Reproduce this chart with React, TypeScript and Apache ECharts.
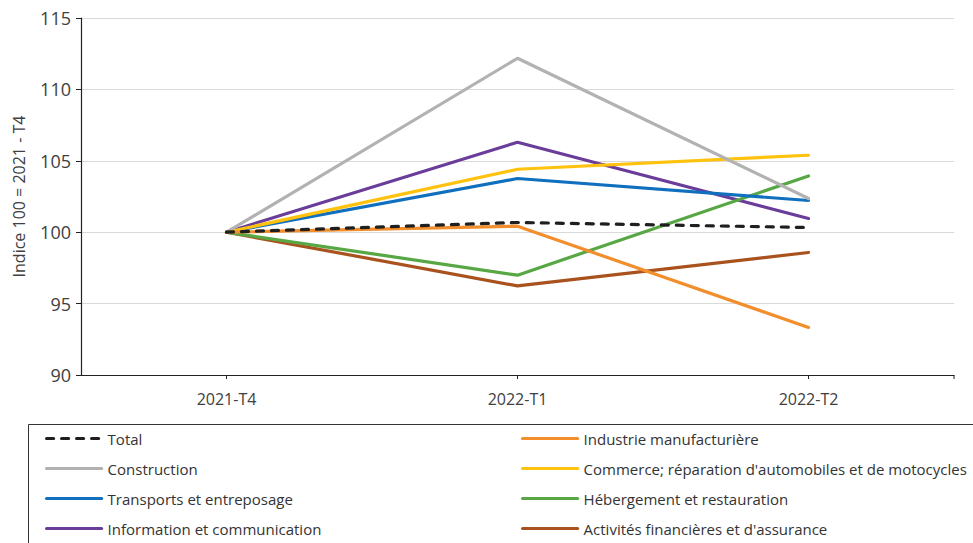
import React, { useEffect, useRef } from "react";
import * as echarts from "echarts";

const categories = ["2021-T4", "2022-T1", "2022-T2"];
const seriesNames = [
  "Total",
  "Industrie manufacturière",
  "Construction",
  "Commerce; réparation d'automobiles et de motocycles",
  "Transports et entreposage",
  "Hébergement et restauration",
  "Information et communication",
  "Activités financières et d'assurance",
];
const total = [100, 100.68, 100.33];
const industrie = [100, 100.42, 93.33];
const construction = [100, 112.18, 102.36];
const commerce = [100, 104.41, 105.39];
const transports = [100, 103.76, 102.22];
const hebergement = [100, 96.99, 103.94];
const information = [100, 106.3, 100.96];
const financieres = [100, 96.24, 98.58];
const yTicks = [90, 95, 100, 105, 110, 115];

const colors = ["#1f1f1f", "#f28e2b", "#b2b2b2", "#ffc20e", "#1170be", "#57a844", "#6a3d9a", "#a9521e"];
const values = [total, industrie, construction, commerce, transports, hebergement, information, financieres];

const FONT = "'Open Sans', 'Noto Sans', sans-serif";

export default function App() {
  const ref = useRef<HTMLDivElement>(null);
  useEffect(() => {
    if (!ref.current) return;
    const chart = echarts.init(ref.current, null, { renderer: "svg" });
    const series = seriesNames.map((name, i) => ({
      name,
      type: "line",
      data: values[i],
      showSymbol: false,
      symbol: "none",
      z: 10 - i,
      lineStyle: {
        color: colors[i],
        width: 3.2,
        type: i === 0 ? [7, 8] : "solid",
        cap: "round",
      },
      itemStyle: { color: colors[i] },
    }));
    const leftCol = [seriesNames[0], seriesNames[2], seriesNames[4], seriesNames[6]];
    const rightCol = [seriesNames[1], seriesNames[3], seriesNames[5], seriesNames[7]];
    const legendCommon = {
      orient: "vertical",
      top: 431,
      padding: 0,
      itemWidth: 55,
      itemHeight: 12,
      itemGap: 15,
      itemStyle: { opacity: 0 },
      lineStyle: { width: 3.2 },
      textStyle: { fontFamily: FONT, fontSize: 15, color: "#333", padding: [0, 0, 0, 1] },
      selectedMode: false,
    };
    chart.setOption({
      animation: false,
      backgroundColor: "#ffffff",
      grid: { left: 81, right: 19, top: 18, bottom: 168, containLabel: false },
      xAxis: {
        type: "category",
        data: categories,
        boundaryGap: true,
        axisLine: { lineStyle: { color: "#222", width: 1.2 } },
        axisTick: { show: true, alignWithLabel: true, length: 4, lineStyle: { color: "#222" } },
        axisLabel: { fontFamily: FONT, fontSize: 16, color: "#404040", margin: 16 },
      },
      yAxis: {
        type: "value",
        min: yTicks[0],
        max: yTicks[yTicks.length - 1],
        interval: 5,
        name: "Indice 100 = 2021 - T4",
        nameLocation: "middle",
        nameGap: 54,
        nameTextStyle: { fontFamily: FONT, fontSize: 16, color: "#404040" },
        axisLine: { show: true, lineStyle: { color: "#222", width: 1.2 } },
        axisTick: { show: true, length: 5, lineStyle: { color: "#222" } },
        axisLabel: { fontFamily: FONT, fontSize: 18, color: "#404040", margin: 10 },
        splitLine: { lineStyle: { color: "#d9d9d9", width: 1 } },
      },
      legend: [
        { ...legendCommon, left: 45, data: leftCol },
        { ...legendCommon, left: 521, data: rightCol },
      ],
      graphic: [
        {
          type: "rect",
          shape: { x: 28.5, y: 424.5, width: 960, height: 140 },
          style: { fill: "none", stroke: "#333", lineWidth: 1 },
          silent: true,
        },
        {
          type: "line",
          shape: { x1: 954, y1: 375, x2: 954, y2: 379 },
          style: { stroke: "#222", lineWidth: 1 },
          silent: true,
        },
      ],
      series,
    });
    return () => chart.dispose();
  }, []);
  return <div ref={ref} style={{ width: 973, height: 543, position: "absolute", left: 0, top: 0 }} />;
}
